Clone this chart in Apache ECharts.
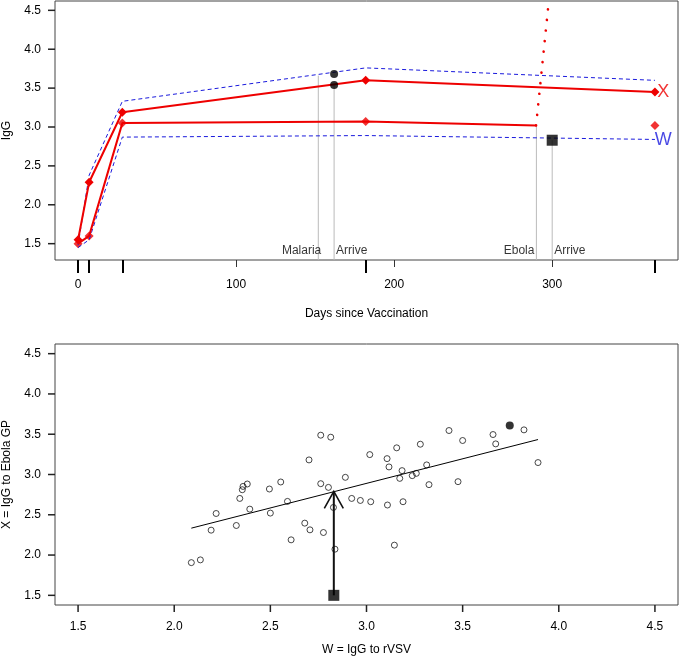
<!DOCTYPE html>
<html><head><meta charset="utf-8">
<script src="https://cdn.jsdelivr.net/npm/echarts@6/dist/echarts.min.js"></script>
<style>html,body{margin:0;padding:0;background:#fff}#c{width:679px;height:663px}</style>
</head><body><div id="c"></div>
<script>
// ---- Top panel data ----
const visitDays = [0, 7, 28, 182, 365];
const xUpperVals = [1.55, 2.29, 3.19, 3.60, 3.45];
const xLowerDays = [0, 7, 28, 182, 290];
const xLowerVals = [1.50, 1.60, 3.05, 3.07, 3.02];
const xLowerMarkerDays = [0, 7, 28, 182, 365];
const xLowerMarkerVals = [1.50, 1.60, 3.05, 3.07, 3.02];
const wUpperVals = [1.48, 2.38, 3.33, 3.76, 3.60];
const wLowerVals = [1.45, 1.55, 2.87, 2.89, 2.84];
const dotDays = [162, 162];
const dotVals = [3.68, 3.54];
const squareDay = [300];
const squareVal = [2.83];
const ebolaRiseDays = [289.8, 297.5];
const ebolaRiseVals = [3.02, 4.55];
const eventDays = [152, 162, 290, 300];
const eventTops = [3.66, 3.54, 3.02, 2.83];
const eventLabels = ['Malaria', 'Arrive', 'Ebola', 'Arrive'];
const dayTicks = [0, 100, 200, 300];
const igTicks = [1.5, 2.0, 2.5, 3.0, 3.5, 4.0, 4.5];

// ---- Bottom panel data ----
const wVals = [2.762,2.814,2.701,2.380,2.358,2.354,2.495,2.554,2.762,2.802,2.341,2.589,2.393,3.017,3.157,3.107,3.117,3.280,3.429,3.500,3.658,3.672,3.185,3.173,3.238,3.259,3.313,3.325,3.476,2.890,2.923,2.968,3.022,3.109,3.190,2.828,3.892,3.819,2.089,2.136,2.218,2.192,2.323,2.500,2.679,2.706,2.776,2.608,2.836,3.145];
const xVals = [3.488,3.463,3.181,2.882,2.852,2.811,2.820,2.907,2.886,2.840,2.703,2.666,2.570,3.247,3.331,3.197,3.094,3.376,3.546,3.422,3.496,3.380,3.048,2.952,2.986,3.014,3.119,2.874,2.911,2.965,2.703,2.678,2.662,2.621,2.662,2.591,3.148,3.554,1.906,1.940,2.516,2.309,2.367,2.521,2.396,2.313,2.280,2.189,2.073,2.123];
const highlightW = [3.745];
const highlightX = [3.608];
const fitW = [2.089, 3.892];
const fitX = [2.334, 3.434];
const subjectW = [2.83];
const subjectXStart = [1.50];
const subjectXPred = [2.79];
const scatterTicks = [1.5, 2.0, 2.5, 3.0, 3.5, 4.0, 4.5];

const FONT = '"Liberation Sans", Arial, Helvetica, sans-serif';
const RED = '#ee0000';
const BLUE = '#1a1add';
const zip = (a, b) => a.map((v, i) => [v, b[i]]);

const TICK = 7;
const topY = [1.29, 4.62], topX = [-14.6, 379.6];
const botY = [1.38, 4.62], botX = [1.38, 4.62];

const chart = echarts.init(document.getElementById('c'), null, {renderer: 'canvas'});

const txt = {fontFamily: FONT, fontSize: 12, color: '#000'};
const fmt1 = v => Number(v).toFixed(1);
const noLine = () => ({show: false, onZero: false});
const boxGrid = b => Object.assign({show: true, borderColor: '#444', borderWidth: 1, backgroundColor: 'transparent', containLabel: false, outerBoundsMode: 'none'}, b);

const option = {
  animation: false,
  backgroundColor: '#fff',
  grid: [
    boxGrid({left: 55, right: 1, top: 1, height: 259}),
    boxGrid({left: 55, right: 1, top: 344, height: 261})
  ],
  xAxis: [
    {gridIndex: 0, type: 'value', min: topX[0], max: topX[1], position: 'bottom',
     name: 'Days since Vaccination', nameLocation: 'middle', nameGap: 48, nameTextStyle: txt,
     axisLine: noLine(), splitLine: {show: false},
     axisTick: {show: true, length: 7, lineStyle: {color: '#333', width: 1}, customValues: dayTicks},
     axisLabel: {show: true, margin: 19, ...txt, customValues: dayTicks, formatter: v => String(Math.round(v))}},
    {gridIndex: 0, type: 'value', min: topX[0], max: topX[1], position: 'bottom',
     axisLine: noLine(), splitLine: {show: false},
     axisTick: {show: true, length: 13, lineStyle: {color: '#000', width: 2}, customValues: visitDays},
     axisLabel: {show: false}},
    {gridIndex: 1, type: 'value', min: botX[0], max: botX[1], position: 'bottom',
     name: 'W = IgG to rVSV', nameLocation: 'middle', nameGap: 39, nameTextStyle: txt,
     axisLine: noLine(), splitLine: {show: false}, axisTick: {show: false},
     axisLabel: {show: true, margin: 16, ...txt, customValues: scatterTicks, formatter: fmt1}}
  ],
  yAxis: [
    {gridIndex: 0, type: 'value', min: topY[0], max: topY[1], position: 'left',
     name: 'IgG', nameLocation: 'middle', nameGap: 42, nameRotate: 90, nameTextStyle: txt,
     axisLine: noLine(), splitLine: {show: false}, axisTick: {show: false},
     axisLabel: {show: true, margin: 14, ...txt, customValues: igTicks, formatter: fmt1}},
    {gridIndex: 1, type: 'value', min: botY[0], max: botY[1], position: 'left',
     name: 'X = IgG to Ebola GP', nameLocation: 'middle', nameGap: 42, nameRotate: 90, nameTextStyle: txt,
     axisLine: noLine(), splitLine: {show: false}, axisTick: {show: false},
     axisLabel: {show: true, margin: 14, ...txt, customValues: scatterTicks, formatter: fmt1}}
  ],
  series: [
    // event vertical lines
    ...eventDays.map((d, i) => ({
      type: 'line', xAxisIndex: 0, yAxisIndex: 0, symbol: 'none', silent: true, z: 1,
      data: [[d, topY[0]], [d, eventTops[i]]],
      lineStyle: {color: '#bbbbbb', width: 1}
    })),
    // event labels
    {type: 'scatter', xAxisIndex: 0, yAxisIndex: 0, symbolSize: 0, silent: true,
     data: eventDays.map((d, i) => ({
       value: [d, 1.41],
       label: {show: true, position: 'inside', formatter: eventLabels[i], ...txt,
               align: i % 2 ? 'left' : 'right', offset: [[3, 2, -2, 2][i], 0]}
     }))},
    // W band (blue dashed)
    {type: 'line', xAxisIndex: 0, yAxisIndex: 0, symbol: 'none', data: zip(visitDays, wUpperVals),
     lineStyle: {color: BLUE, width: 1, type: [4, 3]}},
    {type: 'line', xAxisIndex: 0, yAxisIndex: 0, symbol: 'none', data: zip(visitDays, wLowerVals),
     lineStyle: {color: BLUE, width: 1, type: [4, 3]}},
    // X red lines
    {type: 'line', xAxisIndex: 0, yAxisIndex: 0, symbol: 'diamond', symbolSize: 9, data: zip(visitDays, xUpperVals),
     lineStyle: {color: RED, width: 2}, itemStyle: {color: RED}},
    {type: 'line', xAxisIndex: 0, yAxisIndex: 0, symbol: 'none', data: zip(xLowerDays, xLowerVals),
     lineStyle: {color: RED, width: 2}},
    {type: 'scatter', xAxisIndex: 0, yAxisIndex: 0, symbol: 'diamond', symbolSize: 9,
     data: zip(xLowerMarkerDays, xLowerMarkerVals), itemStyle: {color: RED}},
    // Ebola rise dotted
    {type: 'line', xAxisIndex: 0, yAxisIndex: 0, symbol: 'none', data: zip(ebolaRiseDays, ebolaRiseVals),
     lineStyle: {color: RED, width: 2.6, type: [0.1, 10.5], cap: 'round'}},
    // black dots and square
    {type: 'scatter', xAxisIndex: 0, yAxisIndex: 0, symbol: 'circle', symbolSize: 8, z: 5,
     data: zip(dotDays, dotVals), itemStyle: {color: '#000'}},
    {type: 'scatter', xAxisIndex: 0, yAxisIndex: 0, symbol: 'rect', symbolSize: 11, z: 5,
     data: zip(squareDay, squareVal), itemStyle: {color: '#000'}},
    // X and W letters
    {type: 'scatter', xAxisIndex: 0, yAxisIndex: 0, symbolSize: 0, silent: true,
     data: [
       {value: [370.2, xUpperVals[4]], label: {show: true, position: 'inside', formatter: 'X', fontFamily: FONT, fontSize: 18, color: RED}},
       {value: [370.2, squareVal[0]], label: {show: true, position: 'inside', formatter: 'W', fontFamily: FONT, fontSize: 18, color: BLUE}}
     ]},
    // ---- bottom panel ----
    {type: 'line', xAxisIndex: 2, yAxisIndex: 1, symbol: 'none', data: zip(fitW, fitX),
     lineStyle: {color: '#000', width: 1}},
    {type: 'scatter', xAxisIndex: 2, yAxisIndex: 1, symbol: 'circle', symbolSize: 6,
     data: zip(wVals, xVals), itemStyle: {color: 'rgba(0,0,0,0)', borderColor: '#000', borderWidth: 0.9}},
    {type: 'scatter', xAxisIndex: 2, yAxisIndex: 1, symbol: 'circle', symbolSize: 8,
     data: zip(highlightW, highlightX), itemStyle: {color: '#000'}},
    {type: 'custom', xAxisIndex: 2, yAxisIndex: 1, z: 4,
     data: subjectW.map((w, i) => [w, subjectXStart[i], subjectXPred[i]]),
     renderItem: (params, api) => {
       const p0 = api.coord([api.value(0), api.value(1)]);
       const p1 = api.coord([api.value(0), api.value(2)]);
       return {type: 'group', children: [
         {type: 'line', shape: {x1: p0[0], y1: p0[1], x2: p1[0], y2: p1[1]}, style: {stroke: '#111', lineWidth: 2}},
         {type: 'polyline', shape: {points: [[p1[0] - 9.5, p1[1] + 17], p1, [p1[0] + 9.5, p1[1] + 17]]},
          style: {stroke: '#111', lineWidth: 1.6, fill: null}}
       ]};
     }},
    {type: 'scatter', xAxisIndex: 2, yAxisIndex: 1, symbol: 'rect', symbolSize: 11, z: 5,
     data: zip(subjectW, subjectXStart), itemStyle: {color: '#000'}}
  ]
};
chart.setOption(option);

// R-style outward tick marks, positioned through the axis scales
const tickEls = [];
const addTick = (gridIndex, val, dir) => {
  const p = chart.convertToPixel({gridIndex: gridIndex}, val);
  if (!p) return;
  if (dir === 'y') {
    tickEls.push({type: 'line', z: 100, silent: true,
      shape: {x1: p[0] - TICK, y1: p[1], x2: p[0], y2: p[1]}, style: {stroke: '#222', lineWidth: 1.5}});
  } else {
    tickEls.push({type: 'line', z: 100, silent: true,
      shape: {x1: p[0], y1: p[1], x2: p[0], y2: p[1] + TICK}, style: {stroke: '#222', lineWidth: 1.5}});
  }
};
igTicks.forEach(v => addTick(0, [topX[0], v], 'y'));
scatterTicks.forEach(v => addTick(1, [botX[0], v], 'y'));
scatterTicks.forEach(v => addTick(1, [v, botY[0]], 'x'));
chart.setOption({graphic: {elements: tickEls}});
</script></body></html>
